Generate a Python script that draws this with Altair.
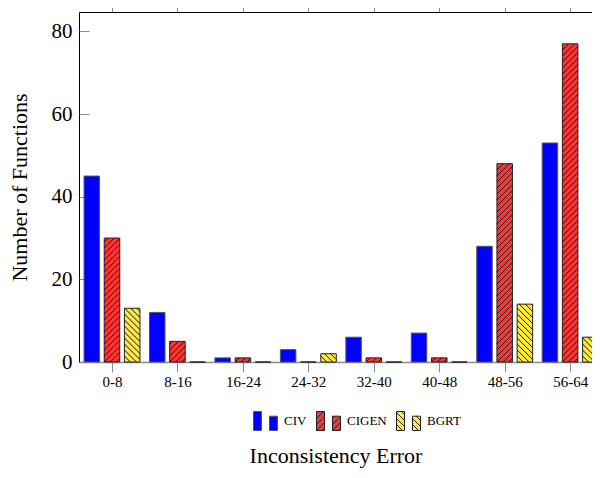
import altair as alt
import numpy as np
import pandas as pd

# ---- data ----
categories = ["0-8", "8-16", "16-24", "24-32", "32-40", "40-48", "48-56", "56-64"]
series = ["CIV", "CIGEN", "BGRT"]
civ = [45, 12, 1, 3, 6, 7, 28, 53]
cigen = [30, 5, 1, 0, 1, 1, 48, 77]
bgrt = [13, 0, 0, 2, 0, 0, 14, 6]
y_ticks = [0, 20, 40, 60, 80]

# ---- styles ----
fills = ["#0000ff", "#ff3333", "#ffea45"]
strokes = ["#55555f", "#222222", "#222222"]
hatch_dir = {"CIGEN": "ne", "BGRT": "nw"}
FONT = "Liberation Serif"
GREY = "#8c8c8c"

W, H = 513, 350
STEP_PX = 65.45
X_DOM = [-0.504, -0.504 + W / STEP_PX]
Y_DOM = [0, 84.7]
PXX = W / (X_DOM[1] - X_DOM[0])
PXY = H / (Y_DOM[1] - Y_DOM[0])
BAR_PX = 15.5
GAP_PX = 20.2
HATCH_PX = 6.0


def hatch_segments(w, h, kind):
    """Hatch segments inside a w x h rectangle, local px coords (dx right, dy up)."""
    out = []
    if h <= 0:
        return out
    if kind == "ne":
        c = -HATCH_PX * np.floor(w / HATCH_PX)
        while c < h:
            lo, hi = max(0.0, -c), min(w, h - c)
            if hi - lo > 0.2:
                out.append((lo, lo + c, hi, hi + c))
            c += HATCH_PX
    else:
        c = HATCH_PX
        while c < h + w:
            lo, hi = max(0.0, c - h), min(w, c)
            if hi - lo > 0.2:
                out.append((lo, c - lo, hi, c - hi))
            c += HATCH_PX
    return out


rows, seg_rows = [], []
for j, (s, vals) in enumerate(zip(series, [civ, cigen, bgrt])):
    for i, (cat, v) in enumerate(zip(categories, vals)):
        ctr = i + (j - 1) * GAP_PX / PXX
        x0 = ctr - BAR_PX / 2 / PXX
        x1 = ctr + BAR_PX / 2 / PXX
        rows.append({"series": s, "category": cat, "value": v, "x0": x0, "x1": x1})
        if s in hatch_dir:
            for (a, b, c, d) in hatch_segments(BAR_PX, v * PXY, hatch_dir[s]):
                seg_rows.append({"series": s, "hx": x0 + a / PXX, "hy": b / PXY,
                                 "hx2": x0 + c / PXX, "hy2": d / PXY})

bars_df = pd.DataFrame(rows)
hatch_df = pd.DataFrame(seg_rows)


def legend_path(kind):
    s = 12.0
    rects = [(-12, -4, -9.5, 9.5), (4, 12, -4.8, 9.5)]
    parts = []
    for xl, xr, yt, yb in rects:
        parts.append(f"M{xl/s:.3f},{yt/s:.3f}H{xr/s:.3f}V{yb/s:.3f}H{xl/s:.3f}Z")
        if kind:
            for (a, b, c, d) in hatch_segments(xr - xl, yb - yt, kind):
                parts.append(f"M{(xl+a)/s:.3f},{(yb-b)/s:.3f}L{(xl+c)/s:.3f},{(yb-d)/s:.3f}")
    return "".join(parts)


shapes = [legend_path(hatch_dir.get(s)) for s in series]

x_scale = alt.Scale(domain=X_DOM, nice=False, zero=False)
y_scale = alt.Scale(domain=Y_DOM, nice=False, zero=False)
label_expr = "[" + ",".join(f"'{c}'" for c in categories) + "][datum.value]"
xvals = list(range(len(categories)))

bottom_axis = alt.Axis(orient="bottom", values=xvals, labelExpr=label_expr,
                       title="Inconsistency Error", domainColor=GREY, domainWidth=1.5,
                       tickColor=GREY, tickSize=10, tickWidth=1, labelFontSize=15,
                       labelPadding=2, labelColor="black", titleFontSize=22,
                       titlePadding=56, titleFontWeight="normal", titleColor="black",
                       grid=False)
top_axis = alt.Axis(orient="top", values=xvals, labels=False, tickSize=10,
                    tickColor=GREY, tickWidth=1, domainColor="black", domainWidth=1,
                    title=None, grid=False)
left_axis = alt.Axis(orient="left", values=y_ticks, ticks=False, domainColor="black",
                     domainWidth=1, labelFontSize=21, labelPadding=7, labelColor="black",
                     title="Number of Functions", titleFontSize=22, titlePadding=20,
                     titleFontWeight="normal", titleColor="black", grid=False)
left_in_ticks = alt.Axis(orient="right", offset=-W, values=y_ticks, labels=False,
                         domain=False, tickSize=10, tickColor=GREY, tickWidth=1,
                         title=None, grid=False)

leg = alt.Legend(orient="none", legendX=174, legendY=396, direction="horizontal",
                 title=None, symbolSize=576, symbolStrokeColor="#222222",
                 symbolStrokeWidth=1, symbolOpacity=1, labelFont=FONT,
                 labelFontSize=13, labelColor="black", labelOffset=6,
                 columnPadding=7, padding=0)

bars = alt.Chart(bars_df).mark_bar(strokeWidth=1).encode(
    x=alt.X("x0:Q", scale=x_scale, axis=bottom_axis),
    x2="x1:Q",
    y=alt.Y("value:Q", scale=y_scale, axis=left_axis),
    y2=alt.datum(0),
    fill=alt.Fill("series:N", scale=alt.Scale(domain=series, range=fills), legend=leg),
    stroke=alt.Stroke("series:N", scale=alt.Scale(domain=series, range=strokes), legend=None),
)

hatch = alt.Chart(hatch_df).mark_rule(color="#111111", strokeWidth=1).encode(
    x=alt.X("hx:Q", scale=x_scale, axis=top_axis),
    x2="hx2:Q",
    y=alt.Y("hy:Q", scale=y_scale, axis=left_in_ticks),
    y2="hy2:Q",
)

legend_pts = alt.Chart(bars_df).transform_filter("datum.value < 0").mark_point(
    filled=True, opacity=0
).encode(
    x=alt.X("x0:Q", scale=x_scale, axis=None),
    y=alt.Y("value:Q", scale=y_scale, axis=None),
    shape=alt.Shape("series:N", scale=alt.Scale(domain=series, range=shapes), legend=leg),
)

chart = alt.layer(bars, hatch, legend_pts).properties(
    width=W, height=H,
    autosize=alt.AutoSizeParams(type="none"),
    padding={"left": 71, "top": 4, "right": 0, "bottom": 108},
    background="white",
).configure_view(stroke=None).configure_axis(
    labelFont=FONT, titleFont=FONT
)

chart.save("out.html", embed_options={"renderer": "svg", "actions": False})
